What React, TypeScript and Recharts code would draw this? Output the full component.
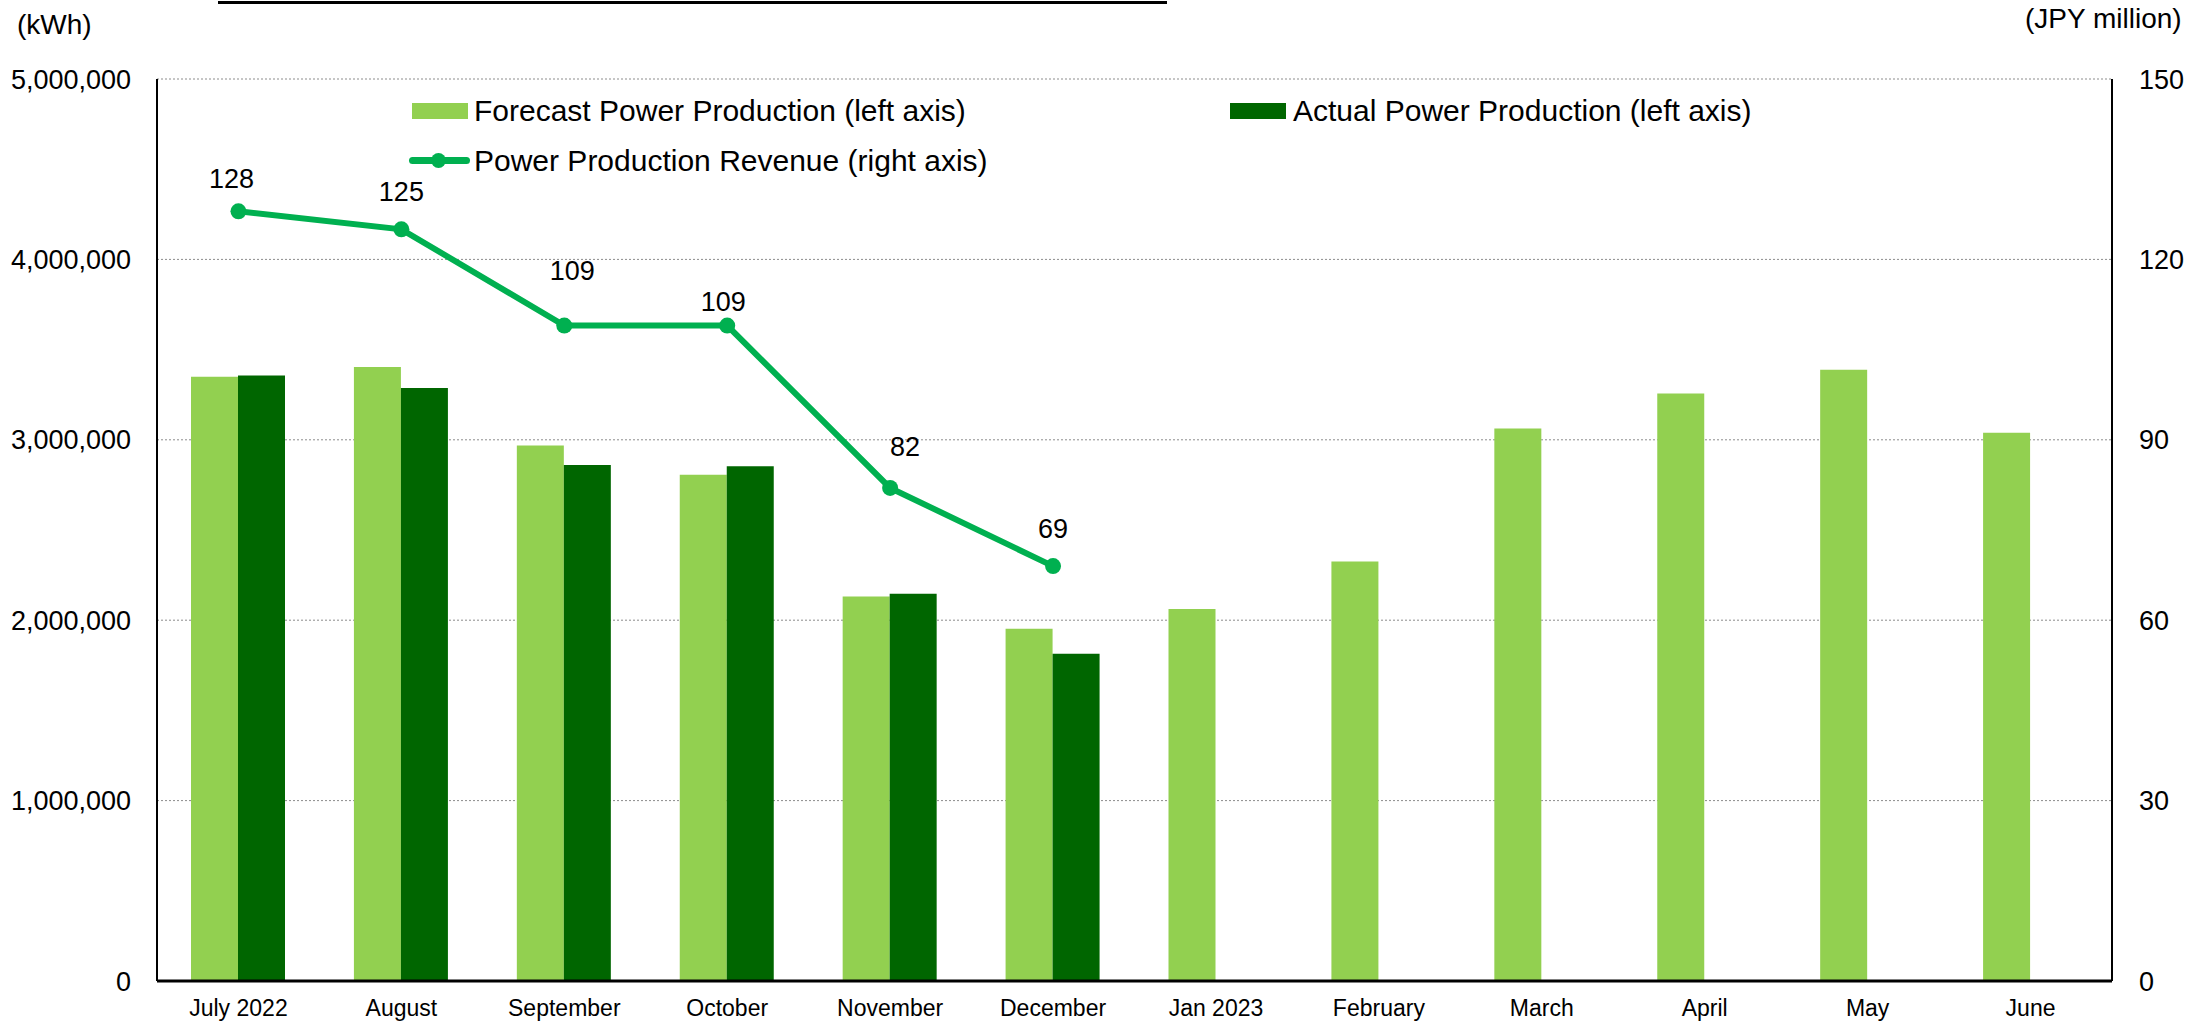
import React from "react";
import {
  ComposedChart,
  Bar,
  Line,
  XAxis,
  YAxis,
  CartesianGrid,
  Legend,
  LabelList,
} from "recharts";

const FONT = '"Liberation Sans", Arial, sans-serif';

const MONTHS = [
  "July 2022",
  "August",
  "September",
  "October",
  "November",
  "December",
  "Jan 2023",
  "February",
  "March",
  "April",
  "May",
  "June",
];

// kWh
const FORECAST = [
  3349000, 3403000, 2969000, 2806000, 2132000, 1953000, 2062000, 2326000,
  3062000, 3256000, 3388000, 3039000,
];
const ACTUAL = [3357000, 3287000, 2860000, 2853000, 2147000, 1814000, null, null, null, null, null, null];
// JPY million, right axis
const REVENUE = [128, 125, 109, 109, 82, 69, null, null, null, null, null, null];

const LEFT_TICKS = [0, 1000000, 2000000, 3000000, 4000000, 5000000];
const RIGHT_TICKS = [0, 30, 60, 90, 120, 150];

const LIGHT = "#92d050";
const DARK = "#006600";
const LINE = "#00b050";

// data label nudges (px) so they sit where the original put them
const LABEL_UP = [23, 28, 46, 15, 32, 28];
const LABEL_RIGHT = [-7, 0, 8, -4, 15, 0];

const data = MONTHS.map((month, i) => ({
  month,
  forecast: FORECAST[i],
  actual: ACTUAL[i],
  revenue: REVENUE[i],
}));

const legendText: React.CSSProperties = {
  position: "absolute",
  fontFamily: FONT,
  fontSize: 30,
  lineHeight: "34px",
  color: "#000",
  whiteSpace: "nowrap",
};

function ChartLegend() {
  return (
    <div style={{ position: "relative", width: 2199, height: 1024, pointerEvents: "none" }}>
      <div style={{ position: "absolute", left: 412, top: 103, width: 56, height: 16, background: LIGHT }} />
      <div style={{ ...legendText, left: 474, top: 94 }}>Forecast Power Production (left axis)</div>
      <div style={{ position: "absolute", left: 1230, top: 103, width: 56, height: 16, background: DARK }} />
      <div style={{ ...legendText, left: 1293, top: 94 }}>Actual Power Production (left axis)</div>
      <div style={{ position: "absolute", left: 409, top: 157, width: 61, height: 7, borderRadius: 4, background: LINE }} />
      <div style={{ position: "absolute", left: 431, top: 153, width: 15, height: 15, borderRadius: 8, background: LINE }} />
      <div style={{ ...legendText, left: 474, top: 144 }}>Power Production Revenue (right axis)</div>
    </div>
  );
}

function RevenueLabel(props: any) {
  const { x, y, value, index } = props;
  if (value == null) return null;
  return (
    <text
      x={Number(x) + (LABEL_RIGHT[index] ?? 0)}
      y={Number(y) - (LABEL_UP[index] ?? 22)}
      textAnchor="middle"
      fontSize={27}
      fontFamily={FONT}
      fill="#000"
    >
      {value}
    </text>
  );
}

export default function App() {
  return (
    <div style={{ position: "absolute", left: 0, top: 0, width: 2199, height: 1024, background: "#fff" }}>
      <div style={{ position: "absolute", left: 218, top: 1, width: 949, height: 3, background: "#000" }} />
      <div style={{ ...legendText, fontSize: 28, left: 17, top: 8 }}>(kWh)</div>
      <div style={{ ...legendText, fontSize: 28, left: 2025, top: 2 }}>(JPY million)</div>
      <ComposedChart
        width={2199}
        height={1024}
        data={data}
        margin={{ top: 79, right: 0, bottom: 0, left: 0 }}
        barGap={0}
        style={{ fontFamily: FONT }}
      >
        <CartesianGrid
          yAxisId="left"
          vertical={false}
          stroke="#8c8c8c"
          strokeDasharray="2 2"
          strokeWidth={1}
        />
        <XAxis
          dataKey="month"
          height={43}
          tickSize={0}
          tickMargin={19}
          tick={{ fontSize: 23, fill: "#000" }}
          axisLine={{ stroke: "#000", strokeWidth: 3 }}
          interval={0}
        />
        <XAxis
          xAxisId="top"
          dataKey="month"
          orientation="top"
          height={0}
          tick={false}
          tickLine={false}
          axisLine={{ stroke: "#000", strokeWidth: 3 }}
        />
        <YAxis
          yAxisId="left"
          width={157}
          domain={[0, 5000000]}
          ticks={LEFT_TICKS}
          tickSize={0}
          tickMargin={26}
          tick={{ fontSize: 27, fill: "#000" }}
          tickFormatter={(v) => Number(v).toLocaleString("en-US")}
          axisLine={{ stroke: "#000", strokeWidth: 2 }}
        />
        <YAxis
          yAxisId="right"
          orientation="right"
          width={87}
          domain={[0, 150]}
          ticks={RIGHT_TICKS}
          tickSize={0}
          tickMargin={27}
          tick={{ fontSize: 27, fill: "#000", textAnchor: "start" }}
          axisLine={{ stroke: "#000", strokeWidth: 2 }}
        />
        <Legend
          layout="horizontal"
          verticalAlign="middle"
          align="center"
          wrapperStyle={{ left: 0, top: 0, width: 2199, height: 1024 }}
          content={() => <ChartLegend />}
        />
        <Bar yAxisId="left" dataKey="forecast" fill={LIGHT} barSize={47} isAnimationActive={false} />
        <Bar yAxisId="left" dataKey="actual" fill={DARK} barSize={47} isAnimationActive={false} />
        <Line
          yAxisId="right"
          dataKey="revenue"
          stroke={LINE}
          strokeWidth={6}
          dot={{ r: 8, fill: LINE, stroke: LINE, strokeWidth: 0 }}
          activeDot={false}
          isAnimationActive={false}
        >
          <LabelList dataKey="revenue" content={RevenueLabel} />
        </Line>
      </ComposedChart>
    </div>
  );
}
